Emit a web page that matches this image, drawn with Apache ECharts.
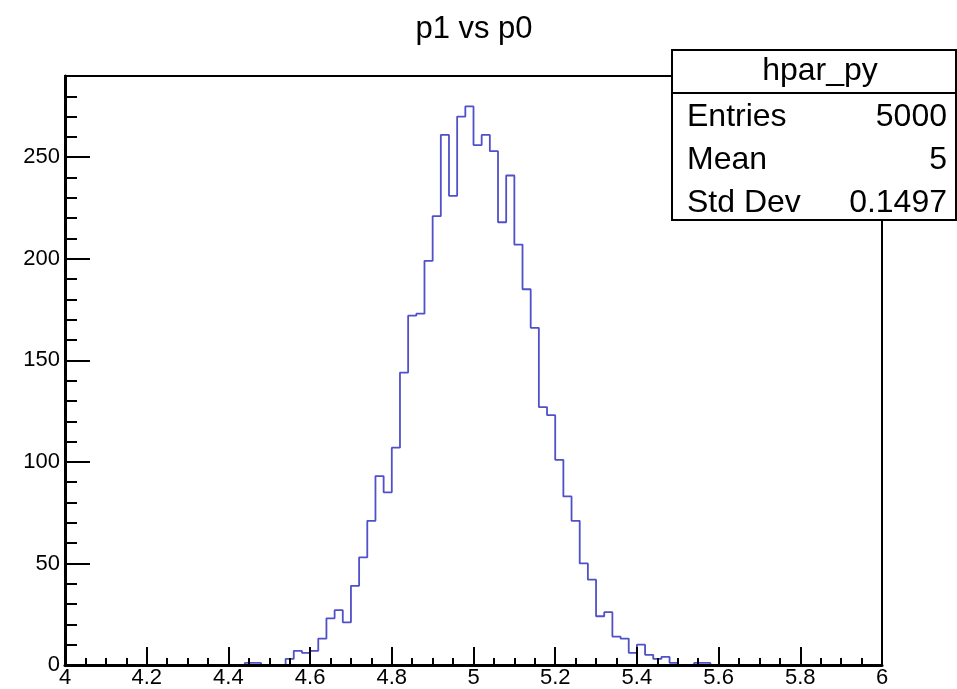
<!DOCTYPE html>
<html><head><meta charset="utf-8">
<script src="https://cdn.jsdelivr.net/npm/echarts@6/dist/echarts.min.js"></script>
<style>html,body{margin:0;padding:0;background:#fff}#c{width:957px;height:689px}</style>
</head><body><div id="c"></div>
<script>
const titleText = 'p1 vs p0';
const histName = 'hpar_py';
const statLabels = ['Entries', 'Mean', 'Std Dev'];
const statValues = ['5000', '5', '0.1497'];
const xMin = 4, xMax = 6, nBins = 100;
const yMin = 0, yMax = 290;
const xTickStep = 0.2, yTickStep = 50, yMinorStep = 10;
// bin contents, bins of width 0.02 from 4 to 6
const counts = [
  0,0,0,0,0,0,0,0,0,0,
  0,0,0,0,0,0,0,0,0,0,
  0,0,1,1,0,0,0,3,7,6,
  7,13,23,27,21,39,53,71,93,85,
  107,144,172,173,199,221,261,231,270,275,
  256,261,253,218,241,207,185,166,127,123,
  101,83,71,50,42,24,26,14,13,6,
  10,5,3,4,1,0,0,1,1,0,
  0,0,0,0,0,0,0,0,0,0,
  0,0,0,0,0,0,0,0,0,0
];

const FONT = '"Liberation Sans", Arial, Helvetica, sans-serif';
const binWidth = (xMax - xMin) / nBins;
const data = counts.map((c, i) => [+(xMin + i * binWidth).toFixed(4), c]);
data.push([xMax, 0]);

const chart = echarts.init(document.getElementById('c'), null, {renderer: 'canvas'});
chart.setOption({
  animation: false,
  backgroundColor: '#fff',
  grid: {left: 65, right: 75, top: 76, bottom: 23, show: true, borderColor: '#000', borderWidth: 2, backgroundColor: 'transparent'},
  xAxis: {
    type: 'value', min: xMin, max: xMax, interval: xTickStep, z: 5,
    axisLine: {onZero: false, lineStyle: {color: '#000', width: 3}},
    axisTick: {inside: true, length: 18, lineStyle: {color: '#000', width: 2}},
    minorTick: {show: true, splitNumber: 4, length: 7, lineStyle: {color: '#000', width: 2}},
    axisLabel: {color: '#000', fontSize: 22, fontFamily: FONT, margin: 2, formatter: v => String(+(+v).toFixed(1))},
    splitLine: {show: false}, minorSplitLine: {show: false}
  },
  yAxis: [{
    type: 'value', min: yMin, max: yMax, interval: yTickStep, position: 'left', z: 5,
    axisLine: {show: true, onZero: false, lineStyle: {color: '#000', width: 3}},
    axisTick: {show: true, inside: true, length: 25, lineStyle: {color: '#000', width: 2}},
    axisLabel: {color: '#000', fontSize: 22, fontFamily: FONT, margin: 5, formatter: v => (Math.round(v) % yTickStep === 0 ? String(Math.round(v)) : '')},
    splitLine: {show: false}
  }, {
    type: 'value', min: yMin, max: yMax, interval: yMinorStep, position: 'left', z: 5,
    axisLine: {show: false},
    axisTick: {show: true, inside: true, length: 12, lineStyle: {color: '#000', width: 2}},
    axisLabel: {show: false},
    splitLine: {show: false}
  }],
  series: [{
    type: 'line', step: 'end', data: data, xAxisIndex: 0, yAxisIndex: 0,
    symbol: 'none', showSymbol: false, z: 2,
    lineStyle: {color: '#5050c8', width: 1.8}
  }],
  graphic: [
    {type: 'text', x: 474, y: 29, z: 20, style: {text: titleText, fontSize: 31, fontFamily: FONT, fill: '#000', align: 'center', verticalAlign: 'middle'}},
    {type: 'rect', z: 10, shape: {x: 672, y: 50, width: 284, height: 170}, style: {fill: '#fff', stroke: '#000', lineWidth: 2}},
    {type: 'line', z: 11, shape: {x1: 672, y1: 93, x2: 956, y2: 93}, style: {stroke: '#000', lineWidth: 2}},
    {type: 'text', x: 820, y: 71, z: 12, style: {text: histName, fontSize: 32, fontFamily: FONT, fill: '#000', align: 'center', verticalAlign: 'middle'}},
    ...statLabels.map((t, i) => ({type: 'text', x: 687, y: 117 + i * 43, z: 12, style: {text: t, fontSize: 32, fontFamily: FONT, fill: '#000', align: 'left', verticalAlign: 'middle'}})),
    ...statValues.map((t, i) => ({type: 'text', x: 947, y: 117 + i * 43, z: 12, style: {text: t, fontSize: 32, fontFamily: FONT, fill: '#000', align: 'right', verticalAlign: 'middle'}}))
  ]
});
</script></body></html>
